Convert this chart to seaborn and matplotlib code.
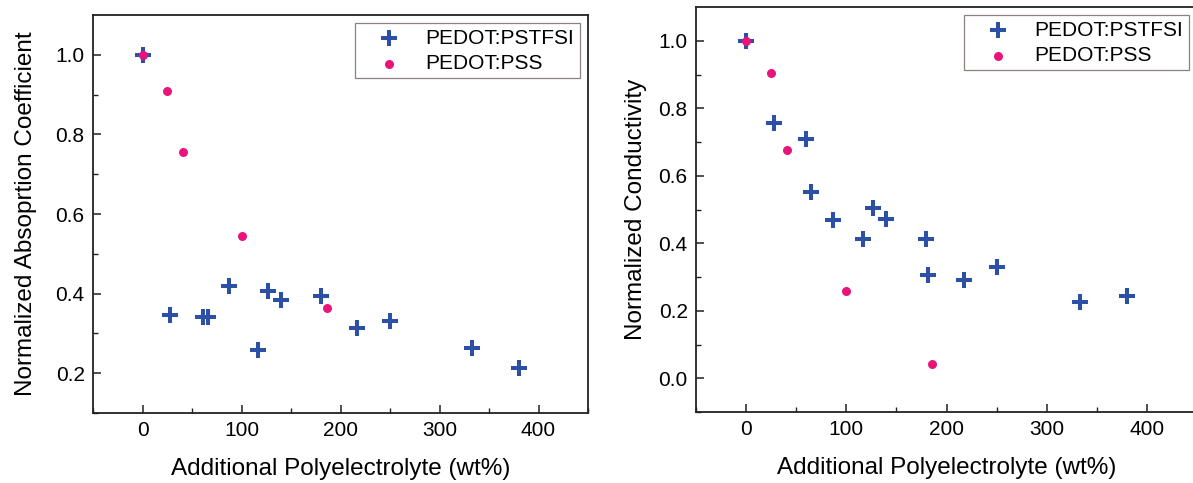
import pandas as pd
import matplotlib
matplotlib.use('Agg')
import matplotlib.pyplot as plt
import seaborn as sns

# absorption panel (left)
abs_pstfsi_x = [0, 28, 61, 66, 87, 117, 127, 140, 180, 217, 250, 333, 380]
abs_pstfsi_y = [1.0, 0.347, 0.342, 0.342, 0.419, 0.259, 0.407, 0.384, 0.393, 0.314, 0.330, 0.264, 0.212]
abs_pss_x = [0, 25, 41, 100, 186]
abs_pss_y = [1.0, 0.910, 0.756, 0.545, 0.363]

# conductivity panel (right)
cond_pstfsi_x = [0, 28, 60, 65, 87, 117, 127, 140, 180, 182, 217, 250, 333, 380]
cond_pstfsi_y = [1.0, 0.757, 0.708, 0.551, 0.468, 0.412, 0.503, 0.473, 0.412, 0.306, 0.291, 0.331, 0.227, 0.244]
cond_pss_x = [0, 25, 41, 100, 186]
cond_pss_y = [1.0, 0.903, 0.675, 0.259, 0.043]

xticks = [0, 100, 200, 300, 400]
series_names = ['PEDOT:PSTFSI', 'PEDOT:PSS']
blue = '#2b50a6'
pink = '#ea1379'

sns.set_style('ticks')
plt.rcParams['font.family'] = ['Liberation Sans', 'DejaVu Sans']
plt.rcParams['text.color'] = 'black'
plt.rcParams['axes.labelcolor'] = 'black'
plt.rcParams['xtick.labelcolor'] = 'black'
plt.rcParams['ytick.labelcolor'] = 'black'

fig = plt.figure(figsize=(11.93, 4.83), dpi=100)
ax1 = fig.add_axes([93 / 1193, 70 / 483, 495 / 1193, 398 / 483])
ax2 = fig.add_axes([696 / 1193, 71 / 483, 501 / 1193, 405 / 483])

panels = [
    (ax1, abs_pstfsi_x, abs_pstfsi_y, abs_pss_x, abs_pss_y, 'Normalized Absoprtion Coefficient', (0.1, 1.1), [0.2, 0.4, 0.6, 0.8, 1.0], 13),
    (ax2, cond_pstfsi_x, cond_pstfsi_y, cond_pss_x, cond_pss_y, 'Normalized Conductivity', (-0.1, 1.1), [0.0, 0.2, 0.4, 0.6, 0.8, 1.0], 8),
]

for ax, px, py, sx, sy, ylabel, ylim, yticks, ypad in panels:
    d1 = pd.DataFrame({'x': px, 'y': py})
    d2 = pd.DataFrame({'x': sx, 'y': sy})
    sns.scatterplot(data=d1, x='x', y='y', ax=ax, marker='+', s=130, linewidth=2.9,
                    color=blue, label=series_names[0], legend=False, zorder=3)
    sns.scatterplot(data=d2, x='x', y='y', ax=ax, marker='o', s=42, linewidth=0,
                    color=pink, label=series_names[1], legend=False, zorder=4)
    ax.set_xlim(-50, 450)
    ax.set_xticks(xticks)
    ax.set_xticks([-50, 50, 150, 250, 350, 450], minor=True)
    ax.set_yticks(yticks)
    ax.set_yticks([round(v + 0.1, 2) for v in yticks[:-1]] + [round(yticks[0] - 0.1, 2)], minor=True)
    ax.set_ylim(*ylim)
    ax.tick_params(which='major', direction='in', length=6, width=1.1, labelsize=15, pad=6, color='#222222')
    ax.tick_params(which='minor', direction='in', length=3.5, width=1.0, color='#222222')
    ax.tick_params(top=False, right=False, which='both')
    for sp in ax.spines.values():
        sp.set_visible(True)
        sp.set_linewidth(1.3)
        sp.set_color('#222222')
    ax.set_xlabel('Additional Polyelectrolyte (wt%)', fontsize=17.5, labelpad=13)
    ax.set_ylabel(ylabel, fontsize=17.5, labelpad=ypad)
    leg = ax.legend(loc='upper right', fontsize=15, frameon=True, fancybox=False,
                    edgecolor='#6e605c', borderpad=0.25, handlelength=2.8, handletextpad=0.35,
                    labelspacing=0.32, borderaxespad=0.4, scatterpoints=1)
    leg.get_frame().set_linewidth(0.9)

fig.savefig('out.png', dpi=100)
